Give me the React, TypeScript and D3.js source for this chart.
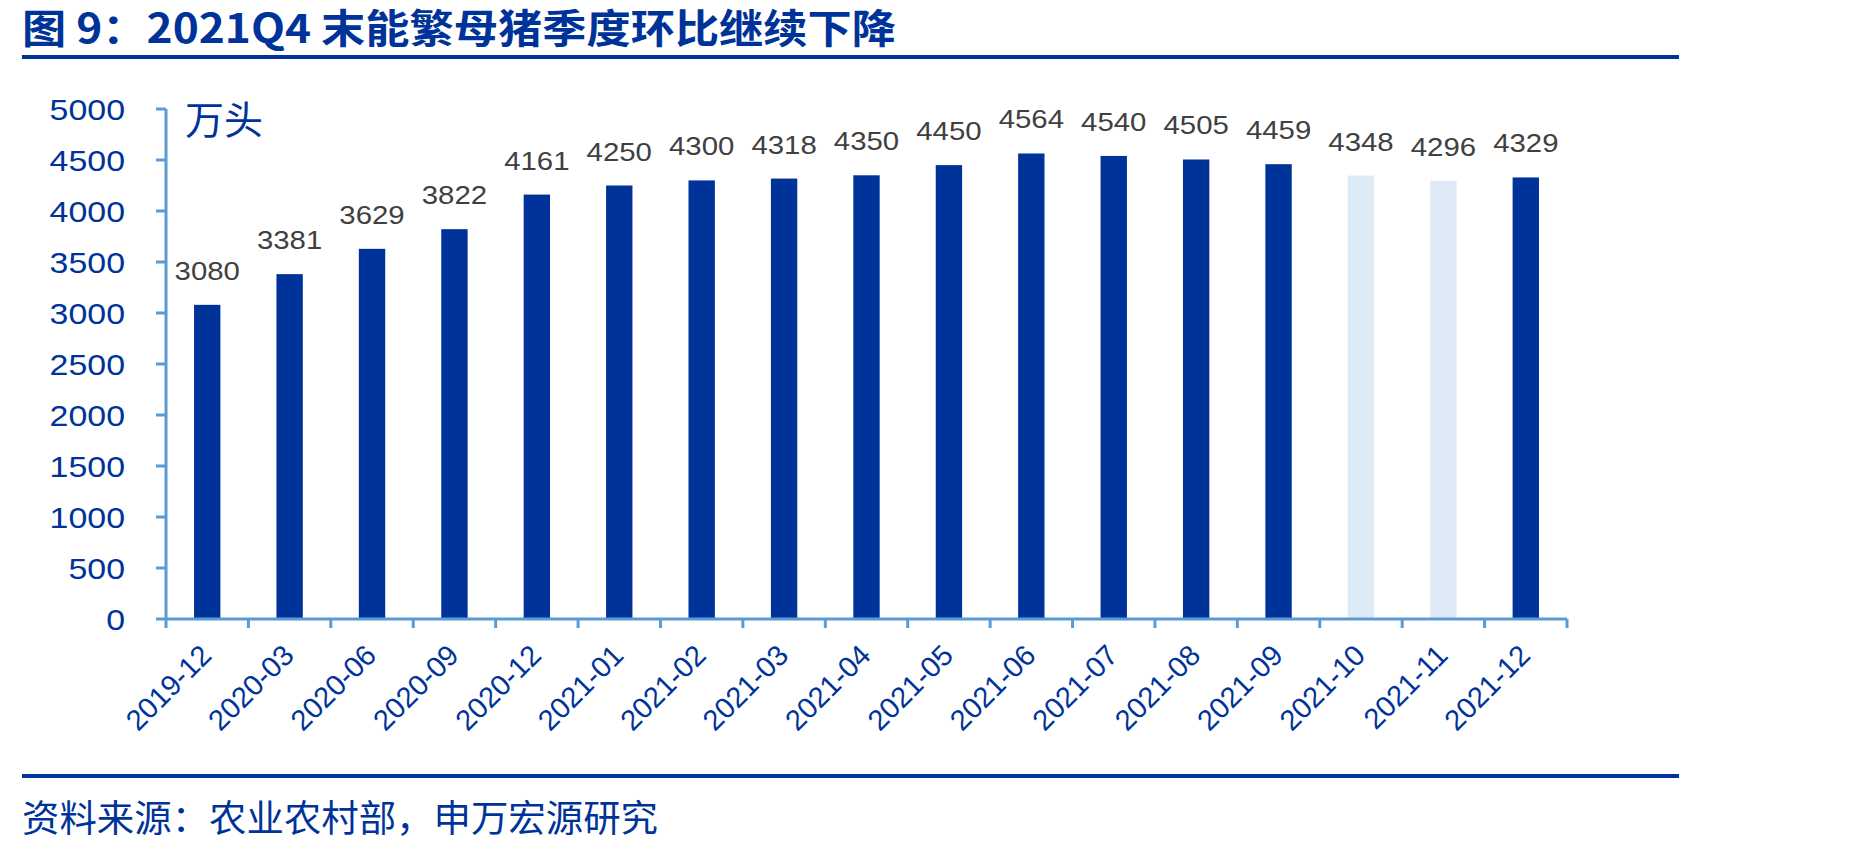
import React, { useEffect } from "react";
import * as d3 from "d3";

// month labels and breeding sow stock (10k head)
const months = [
  "2019-12", "2020-03", "2020-06", "2020-09", "2020-12",
  "2021-01", "2021-02", "2021-03", "2021-04", "2021-05", "2021-06",
  "2021-07", "2021-08", "2021-09", "2021-10", "2021-11", "2021-12",
];
const sowStock = [
  3080, 3381, 3629, 3822, 4161,
  4250, 4300, 4318, 4350, 4450, 4564,
  4540, 4505, 4459, 4348, 4296, 4329,
];
// months drawn in the pale colour (not quarter ends)
const paleMonths = ["2021-10", "2021-11"];
const yTicks = [0, 500, 1000, 1500, 2000, 2500, 3000, 3500, 4000, 4500, 5000];

const W = 1849;
const H = 852;
const NAVY = "#003399";
const PALE = "#deeaf6";
const AXIS = "#5b9bd5";
const LATIN = "'Liberation Sans', Arial, sans-serif";
const CJK = "'Noto Sans CJK SC', sans-serif";

const left = 166, right = 1567, top = 109, bottom = 619;

export default function App() {
  useEffect(() => {
    document.body.style.margin = "0";
    document.body.style.overflow = "hidden";
  }, []);

  const x = d3.scaleBand<string>().domain(months).range([left, right]).padding(0);
  const y = d3.scaleLinear().domain([0, 5000]).range([bottom, top]);
  const step = x.step();
  const barW = step * 0.32;

  const boundaries = d3.range(months.length + 1).map(i => left + i * step);

  return (
    <svg width={W} height={H} style={{ display: "block", position: "fixed", left: 0, top: 0, background: "#fff" }}>
      {/* title */}
      <text x={22} y={43} fontFamily={CJK} fontWeight={700} fontSize={40} fill={NAVY}
        textLength={874} lengthAdjust="spacingAndGlyphs">
        图 9：2021Q4 末能繁母猪季度环比继续下降
      </text>
      <line x1={22} x2={1679} y1={57} y2={57} stroke={NAVY} strokeWidth={4} />

      {/* bars */}
      {months.map((m, i) => (
        <rect key={m} x={x(m)! + (step - barW) / 2} y={y(sowStock[i])}
          width={barW} height={y(0) - y(sowStock[i])}
          fill={paleMonths.includes(m) ? PALE : NAVY} />
      ))}

      {/* value labels */}
      {months.map((m, i) => (
        <text key={m} fontFamily={LATIN} fontSize={26} fill="#404040" textAnchor="middle"
          transform={`translate(${x(m)! + step / 2},${y(sowStock[i]) - 25}) scale(1.13,1)`}>
          {sowStock[i]}
        </text>
      ))}

      {/* y axis */}
      <line x1={left} x2={left} y1={top} y2={bottom} stroke={AXIS} strokeWidth={3} />
      {yTicks.map(t => (
        <g key={t}>
          <line x1={left - 10} x2={left} y1={y(t)} y2={y(t)} stroke={AXIS} strokeWidth={3} />
          <text fontFamily={LATIN} fontSize={30} fill={NAVY} textAnchor="end"
            transform={`translate(125,${y(t) + 11}) scale(1.13,1)`}>
            {t}
          </text>
        </g>
      ))}
      <text x={185} y={134} fontFamily={CJK} fontSize={39} fill={NAVY}>万头</text>

      {/* x axis */}
      <line x1={left} x2={right} y1={bottom} y2={bottom} stroke={AXIS} strokeWidth={3} />
      {boundaries.map((bx, i) => (
        <line key={i} x1={bx} x2={bx} y1={bottom} y2={bottom + 9} stroke={AXIS} strokeWidth={3} />
      ))}
      {months.map(m => (
        <text key={m} fontFamily={LATIN} fontSize={29} fill={NAVY} textAnchor="end"
          transform={`translate(${x(m)! + step / 2 + 6},${bottom + 38}) rotate(-45)`}>
          {m}
        </text>
      ))}

      {/* source */}
      <line x1={22} x2={1679} y1={776} y2={776} stroke={NAVY} strokeWidth={4} />
      <text x={22} y={832} fontFamily={CJK} fontSize={37} fill={NAVY}
        textLength={636} lengthAdjust="spacingAndGlyphs">
        资料来源：农业农村部，申万宏源研究
      </text>
    </svg>
  );
}
